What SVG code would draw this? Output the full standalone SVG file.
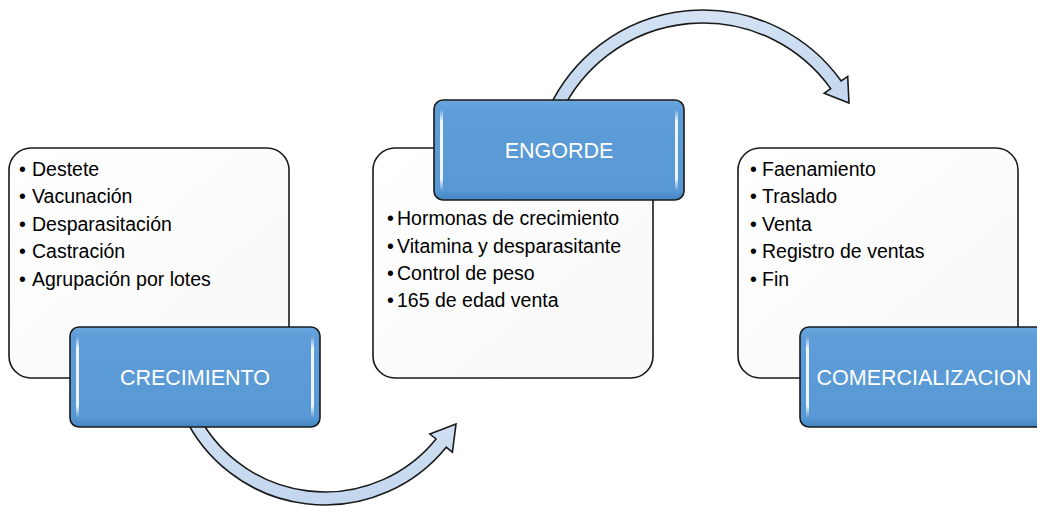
<svg xmlns="http://www.w3.org/2000/svg" width="1037" height="506" viewBox="0 0 1037 506">
<defs>
<linearGradient id="whiteGrad" x1="0" y1="0" x2="1" y2="1">
<stop offset="0" stop-color="#ffffff"/>
<stop offset="1" stop-color="#f8f8f8"/>
</linearGradient>
<linearGradient id="blueGrad" x1="0" y1="0" x2="0" y2="1">
<stop offset="0" stop-color="#6ea9df"/>
<stop offset="0.08" stop-color="#5e9dd7"/>
<stop offset="0.9" stop-color="#5898d4"/>
<stop offset="1" stop-color="#4585c4"/>
</linearGradient>
<linearGradient id="hiGrad" x1="0" y1="0" x2="0" y2="1">
<stop offset="0" stop-color="#ffffff" stop-opacity="0"/>
<stop offset="0.15" stop-color="#ffffff" stop-opacity="0.9"/>
<stop offset="0.85" stop-color="#ffffff" stop-opacity="0.9"/>
<stop offset="1" stop-color="#ffffff" stop-opacity="0"/>
</linearGradient>
<linearGradient id="arrowGrad" x1="0" y1="0" x2="0" y2="1">
<stop offset="0" stop-color="#d3e2f4"/>
<stop offset="1" stop-color="#c2d6ee"/>
</linearGradient>
</defs>
<style>
.card{fill:url(#whiteGrad);stroke:#1a1a1a;stroke-width:1.6}
.title{fill:url(#blueGrad);stroke:#1a1a1a;stroke-width:1.6}
.hi{fill:url(#hiGrad)}
.ttl{font-family:"Liberation Sans",Arial,sans-serif;font-size:21.5px;fill:#ffffff;text-anchor:middle}
.bul{font-family:"Liberation Sans",Arial,sans-serif;font-size:19.5px;fill:#000000}
.arrow{fill:url(#arrowGrad);stroke:#1a1a1a;stroke-width:1.6;stroke-linejoin:miter}
</style>
<rect width="1037" height="506" fill="#ffffff"/>
<g id="connectors">
<path class="arrow" d="M183.6,414.9 A156,156 0 0 0 446.2,447.2 L452.4,452.2 L456,424 L429.9,434 L436.1,439 A143,143 0 0 1 195.4,409.4 Z"/>
<path class="arrow" d="M548.9,108.2 A170,170 0 0 1 841.2,81 L847.7,76.4 L849,103 L824.2,93.3 L830.7,88.6 A157,157 0 0 0 560.7,113.7 Z"/>
</g>
<g id="crecimiento">
<rect class="card" x="9" y="148" width="280" height="230" rx="22"/>
<text class="bul"><tspan x="19" y="175.5">•</tspan><tspan x="32" y="175.5">Destete</tspan></text>
<text class="bul"><tspan x="19" y="203">•</tspan><tspan x="32" y="203">Vacunación</tspan></text>
<text class="bul"><tspan x="19" y="230.7">•</tspan><tspan x="32" y="230.7">Desparasitación</tspan></text>
<text class="bul"><tspan x="19" y="258.3">•</tspan><tspan x="32" y="258.3">Castración</tspan></text>
<text class="bul"><tspan x="19" y="286">•</tspan><tspan x="32" y="286">Agrupación por lotes</tspan></text>
<rect class="title" x="70" y="327" width="250" height="100" rx="9"/>
<rect class="hi" x="76" y="336" width="3" height="82" rx="1.5"/>
<rect class="hi" x="311" y="336" width="3" height="82" rx="1.5"/>
<text class="ttl" x="195" y="385">CRECIMIENTO</text>
</g>
<g id="engorde">
<rect class="card" x="373" y="148" width="280" height="230" rx="22"/>
<text class="bul"><tspan x="387" y="225">•</tspan><tspan x="397" y="225">Hormonas de crecimiento</tspan></text>
<text class="bul"><tspan x="387" y="253">•</tspan><tspan x="397" y="253">Vitamina y desparasitante</tspan></text>
<text class="bul"><tspan x="387" y="280">•</tspan><tspan x="397" y="280">Control de peso</tspan></text>
<text class="bul"><tspan x="387" y="307">•</tspan><tspan x="397" y="307">165 de edad venta</tspan></text>
<rect class="title" x="434" y="100" width="250" height="100" rx="9"/>
<rect class="hi" x="440" y="109" width="3" height="82" rx="1.5"/>
<rect class="hi" x="675" y="109" width="3" height="82" rx="1.5"/>
<text class="ttl" x="559" y="158">ENGORDE</text>
</g>
<g id="comercializacion">
<rect class="card" x="738" y="148" width="280" height="230" rx="22"/>
<text class="bul"><tspan x="750" y="175.5">•</tspan><tspan x="762" y="175.5">Faenamiento</tspan></text>
<text class="bul"><tspan x="750" y="203">•</tspan><tspan x="762" y="203">Traslado</tspan></text>
<text class="bul"><tspan x="750" y="230.7">•</tspan><tspan x="762" y="230.7">Venta</tspan></text>
<text class="bul"><tspan x="750" y="258.3">•</tspan><tspan x="762" y="258.3">Registro de ventas</tspan></text>
<text class="bul"><tspan x="750" y="286">•</tspan><tspan x="762" y="286">Fin</tspan></text>
<rect class="title" x="800" y="327" width="250" height="100" rx="9"/>
<rect class="hi" x="806" y="336" width="3" height="82" rx="1.5"/>
<text class="ttl" x="924" y="385">COMERCIALIZACION</text>
</g>
</svg>
